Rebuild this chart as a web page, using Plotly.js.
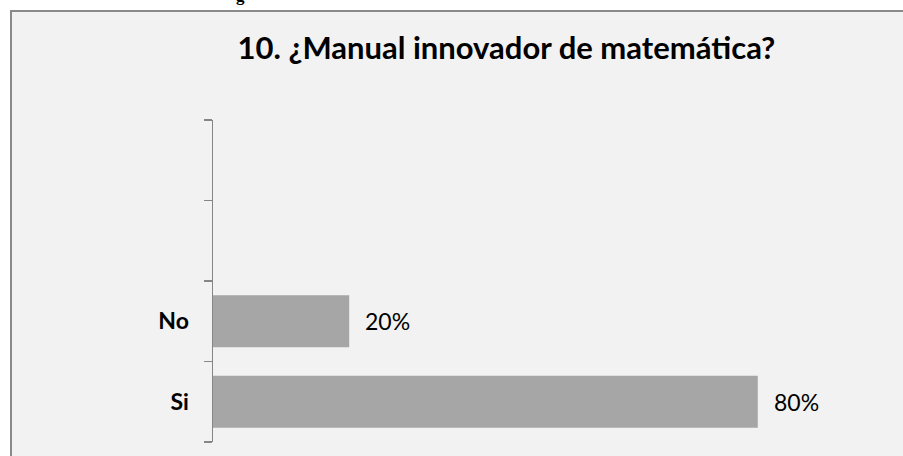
<!DOCTYPE html>
<html>
<head>
<meta charset="utf-8">
<script src="https://cdn.plot.ly/plotly-3.0.1.min.js"></script>
<style>
  html, body { margin: 0; padding: 0; background: #ffffff; width: 903px; height: 456px; overflow: hidden; }
  #frame { position: absolute; left: 10px; top: 10px; width: 893px; height: 446px; box-sizing: border-box;
           border-left: 2px solid #8a8a8a; border-top: 2px solid #8a8a8a; background: #f2f2f2; overflow: hidden; }
  #chart { width: 891px; height: 444px; }
  #cut { position: absolute; left: 236px; top: -14px; font-family: "Liberation Serif", serif; font-weight: bold; font-size: 17px; color: #000; }
</style>
</head>
<body>
<div id="cut">g</div>
<div id="frame"><div id="chart"></div></div>
<script>
const title = "10. ¿Manual innovador de matemática?";
const categories = ["Si", "No", "\u00a0", "\u00a0\u00a0"];
const values = [80, 20, null, null];
const labels = ["80%", "20%", "", ""];

const annotations = [];
for (let i = 0; i < categories.length; i++) {
  if (values[i] !== null) {
    annotations.push({
      x: values[i], y: categories[i], xref: "x", yref: "y",
      text: labels[i], showarrow: false, xanchor: "left", xshift: 14,
      font: { family: "Lato, sans-serif", size: 23, color: "#000" }
    });
  }
}

const trace = {
  type: "bar", orientation: "h",
  x: values, y: categories,
  marker: { color: "#a6a6a6" },
  hoverinfo: "none"
};

const layout = {
  width: 891, height: 444,
  margin: { l: 201, r: 9, t: 108, b: 14, pad: 0 },
  paper_bgcolor: "#f2f2f2", plot_bgcolor: "#f2f2f2",
  bargap: 0.355,
  showlegend: false,
  title: { text: "<b>" + title + "</b>", x: 0.555, xanchor: "center", y: 0.918, yanchor: "middle",
           font: { family: "Lato, sans-serif", size: 31, color: "#000", weight: 900 } },
  xaxis: { range: [0, 100], visible: false, fixedrange: true, showline: false, zeroline: false, showgrid: false },
  yaxis: {
    type: "category", categoryorder: "array", categoryarray: categories,
    range: [-0.5, 3.5],
    showline: true, linecolor: "#868686", linewidth: 1.5,
    ticks: "outside", tickson: "boundaries", ticklen: 8, tickcolor: "#868686", tickwidth: 1.5,
    showgrid: false, zeroline: false,
    ticklabelstandoff: 18,
    tickfont: { family: "Lato, sans-serif", size: 23, color: "#000", weight: "bold" }
  },
  annotations: annotations
};

Plotly.newPlot("chart", [trace], layout, { staticPlot: true, displayModeBar: false });
</script>
</body>
</html>
